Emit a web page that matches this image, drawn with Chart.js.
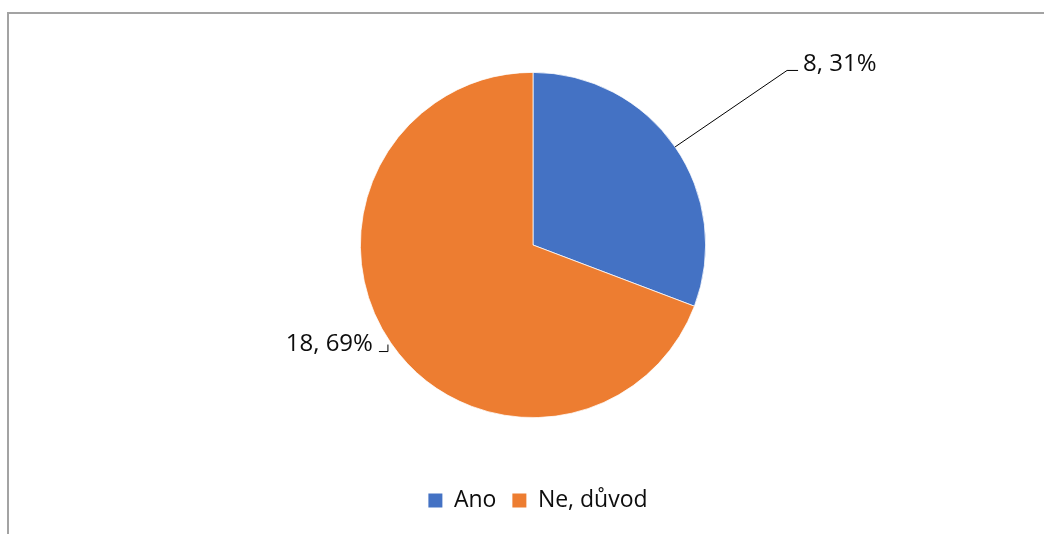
<!DOCTYPE html>
<html><head><meta charset="utf-8">
<script src="https://cdn.jsdelivr.net/npm/chart.js@4"></script>
<style>
html,body{margin:0;padding:0;background:#fff;overflow:hidden}
#wrap{position:relative;width:1044px;height:534px;overflow:hidden}
#frame{position:absolute;left:7px;top:12px;width:1100px;height:600px;border:2px solid #a3a3a3;box-sizing:border-box}
canvas{position:absolute;left:0;top:0}
</style></head><body>
<div id="wrap"><div id="frame"></div><canvas id="c" width="1044" height="534"></canvas></div>
<script>
const categories = ['Ano', 'Ne, důvod'];
const values = [8, 18];
const colors = ['#4472C4', '#ED7D31'];

const FONT = '"Open Sans", sans-serif';
const total = values.reduce((a, b) => a + b, 0);

const labelPlugin = {
  id: 'leaderLabels',
  afterLayout(chart) {
    if (chart.legend) { chart.legend.left += 5; chart.legend.right += 5; }
  },
  afterDatasetsDraw(chart) {
    const ctx = chart.ctx;
    const meta = chart.getDatasetMeta(0);
    ctx.save();
    ctx.font = '24px ' + FONT;
    ctx.fillStyle = '#0d0d0d';
    ctx.strokeStyle = '#000';
    ctx.lineWidth = 1;
    ctx.textBaseline = 'middle';
    meta.data.forEach((arc, i) => {
      const p = arc.getProps(['x', 'y', 'outerRadius', 'startAngle', 'endAngle'], true);
      const mid = (p.startAngle + p.endAngle) / 2;
      const ex = p.x + Math.cos(mid) * p.outerRadius;
      const ey = p.y + Math.sin(mid) * p.outerRadius;
      const txt = values[i] + ', ' + Math.round(values[i] / total * 100) + '%';
      ctx.beginPath();
      if (i === 0) {
        ctx.moveTo(ex, ey);
        ctx.lineTo(ex + 112, ey - 76.5);
        ctx.lineTo(ex + 123, ey - 76.5);
        ctx.stroke();
        ctx.textAlign = 'left';
        ctx.fillText(txt, ex + 128, ey - 83);
      } else {
        ctx.moveTo(ex - 3, ey + 1.5);
        ctx.lineTo(ex - 3, ey + 8.5);
        ctx.lineTo(ex - 12, ey + 8.5);
        ctx.stroke();
        ctx.textAlign = 'right';
        ctx.fillText(txt, ex - 18, ey + 1);
      }
    });
    ctx.restore();
  }
};

new Chart(document.getElementById('c'), {
  type: 'pie',
  data: {
    labels: categories,
    datasets: [{
      data: values,
      backgroundColor: colors,
      borderColor: '#ffffff',
      borderWidth: 0.75,
      hoverOffset: 0
    }]
  },
  options: {
    responsive: false,
    animation: false,
    layout: { padding: { top: 72, bottom: 12, left: 22, right: 0 } },
    plugins: {
      tooltip: { enabled: false },
      legend: {
        position: 'bottom',
        title: { display: true, text: ' ', font: { size: 10, lineHeight: 1 }, padding: { top: 45, bottom: 0 } },
        labels: {
          boxWidth: 14,
          boxHeight: 14,
          padding: 16,
          color: '#0d0d0d',
          font: { family: FONT, size: 23 },
          generateLabels(chart) {
            const items = Chart.overrides.pie.plugins.legend.labels.generateLabels(chart);
            items.forEach(it => { it.lineWidth = 0; it.strokeStyle = 'rgba(0,0,0,0)'; });
            return items;
          }
        }
      }
    }
  },
  plugins: [labelPlugin]
});
</script>
</body></html>
